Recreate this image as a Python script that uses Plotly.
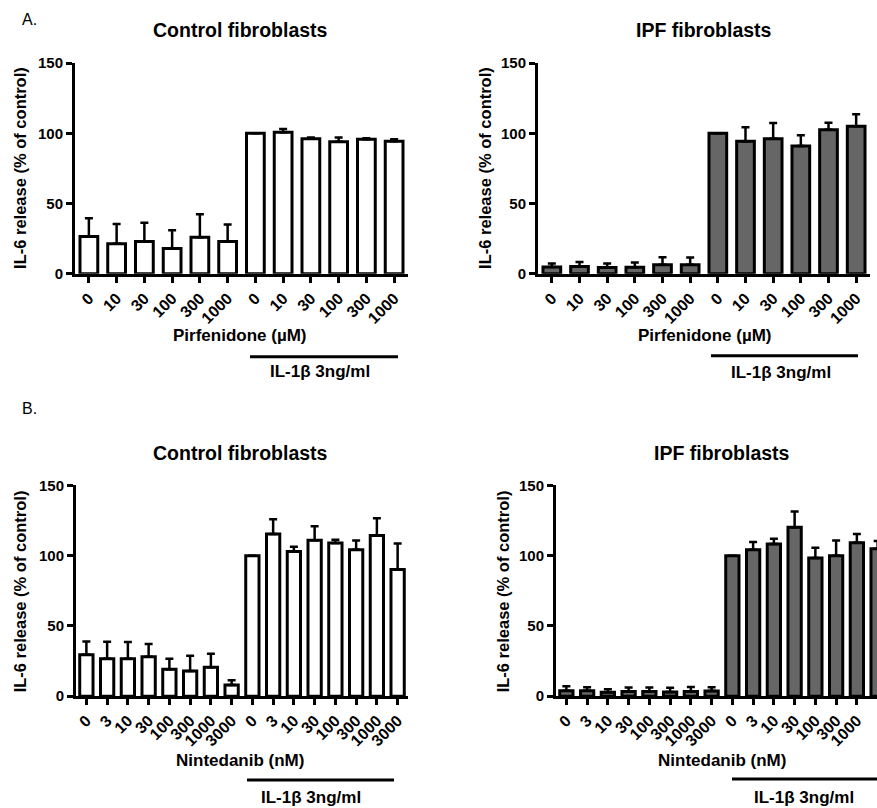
import plotly.graph_objects as go

# The photographed page shows the figure 8px lower and ~2% shorter than drawn;
# target pixel rows are converted back through that mapping in py().
W, H = 877, 816
OFFY, SY = 8, 808 / 824

# ---------------- data ----------------
pirf_labels = ["0", "10", "30", "100", "300", "1000", "0", "10", "30", "100", "300", "1000"]
nint_labels = ["0", "3", "10", "30", "100", "300", "1000", "3000",
               "0", "3", "10", "30", "100", "300", "1000", "3000"]

ctrl_pirf_mean = [26.5, 21.3, 23.0, 18.0, 26.0, 23.0, 100.0, 100.7, 96.2, 94.0, 95.8, 94.3]
ctrl_pirf_sem = [13.1, 14.2, 13.3, 13.0, 16.4, 12.0, 0.0, 2.3, 0.8, 3.0, 0.6, 1.4]

ipf_pirf_mean = [4.8, 5.1, 4.5, 4.7, 6.4, 6.4, 100.0, 94.4, 96.1, 90.9, 102.5, 105.1]
ipf_pirf_sem = [2.6, 3.3, 2.8, 3.3, 5.4, 5.1, 0.0, 10.0, 11.2, 7.8, 5.0, 8.4]

ctrl_nint_mean = [29.5, 26.7, 26.7, 28.1, 19.2, 18.0, 20.5, 7.9,
                  100.0, 115.5, 103.0, 111.0, 109.1, 104.2, 114.3, 90.2]
ctrl_nint_sem = [9.5, 12.0, 11.8, 9.0, 7.5, 10.8, 9.7, 3.4,
                 0.0, 10.5, 3.3, 10.0, 2.2, 6.6, 12.3, 18.5]

ipf_nint_mean = [3.9, 3.8, 2.8, 3.3, 3.3, 3.0, 3.3, 3.6,
                 100.0, 104.2, 108.3, 120.3, 98.3, 100.0, 109.2, 105.0]
ipf_nint_sem = [3.2, 2.6, 2.2, 2.9, 2.9, 3.0, 3.3, 2.8,
                0.0, 5.5, 3.7, 11.2, 7.4, 10.9, 6.2, 5.4]

y_ticks = [0, 50, 100, 150]

FONT = "Liberation Sans, Arial, Helvetica, sans-serif"


def px(x):
    return min(1.0, max(0.0, x / W))


def py(y):
    return min(1.0, max(0.0, 1 - (y / SY - OFFY) / H))


panels = [
    ("", pirf_labels, ctrl_pirf_mean, ctrl_pirf_sem, "white", (75, 408), (62, 273), None),
    ("2", pirf_labels, ipf_pirf_mean, ipf_pirf_sem, "#666666", (538, 870), (62, 273), None),
    ("3", nint_labels, ctrl_nint_mean, ctrl_nint_sem, "white", (76, 408), (485, 696), None),
    ("4", nint_labels, ipf_nint_mean, ipf_nint_sem, "#666666", (556, 877), (485, 696), 14.97),
]

fig = go.Figure()
layout = dict(
    width=W, height=H,
    margin=dict(l=0, r=0, t=0, b=0),
    paper_bgcolor="white", plot_bgcolor="white",
    showlegend=False,
    font=dict(family=FONT, color="black"),
)

for suf, labels, means, sems, fill, xd, yd, xend in panels:
    n = len(labels)
    xs = list(range(n))
    fig.add_trace(go.Bar(
        x=xs, y=means,
        width=0.64,
        marker=dict(color=fill, line=dict(color="black", width=3)),
        error_y=dict(type="data", symmetric=False, array=sems,
                     arrayminus=[0] * n, color="black", thickness=2.5, width=4),
        xaxis="x" + suf, yaxis="y" + suf,
        hoverinfo="skip",
    ))
    layout["xaxis" + suf] = dict(
        domain=[px(xd[0]), px(xd[1])],
        range=[-0.5, xend if xend is not None else n - 0.5],
        anchor="y" + suf,
        showline=True, linecolor="black", linewidth=3,
        ticks="outside", ticklen=6, tickwidth=3, tickcolor="black",
        tickmode="array", tickvals=xs, ticktext=labels, tickangle=-45,
        tickfont=dict(family=FONT, size=16, color="black", weight="bold"),
        showgrid=False, zeroline=False, fixedrange=True,
    )
    layout["yaxis" + suf] = dict(
        domain=[py(yd[1]), py(yd[0])],
        range=[0, 150],
        anchor="x" + suf,
        showline=True, linecolor="black", linewidth=3,
        ticks="outside", ticklen=6, tickwidth=3, tickcolor="black",
        tickmode="array", tickvals=y_ticks,
        tickfont=dict(family=FONT, size=15, color="black", weight="bold"),
        showgrid=False, zeroline=False, fixedrange=True,
    )

fig.update_layout(**layout)


def ann(text, x, y, size, bold=True, angle=0, xanchor="center"):
    fig.add_annotation(
        text=text, x=px(x), y=py(y), xref="paper", yref="paper",
        showarrow=False, textangle=angle, xanchor=xanchor, yanchor="middle",
        font=dict(family=FONT, size=size, color="black",
                  weight="bold" if bold else "normal"),
    )


ann("A.", 20, 18, 16, bold=False, xanchor="left")
ann("B.", 20, 408, 16, bold=False, xanchor="left")

ann("Control fibroblasts", 240, 28.5, 19.5)
ann("IPF fibroblasts", 704, 28.5, 19.5)
ann("Control fibroblasts", 240, 452, 19.5)
ann("IPF fibroblasts", 722, 452, 19.5)

ylab = "IL-6 release (% of control)"
ann(ylab, 20, 167, 16.5, angle=-90)
ann(ylab, 485, 167, 16.5, angle=-90)
ann(ylab, 20, 591, 16.5, angle=-90)
ann(ylab, 503, 591, 16.5, angle=-90)

ann("Pirfenidone (µM)", 240, 335, 17)
ann("Pirfenidone (µM)", 705, 335, 17)
ann("Nintedanib (nM)", 240, 760, 17)
ann("Nintedanib (nM)", 722, 760, 17)

ann("IL-1β 3ng/ml", 320, 371, 17)
ann("IL-1β 3ng/ml", 781, 372, 17)
ann("IL-1β 3ng/ml", 311, 797, 17)
ann("IL-1β 3ng/ml", 804, 797, 17)

for x0, x1, y in [(250, 398, 356), (711, 858, 355), (247, 394, 780), (732, 877, 779)]:
    fig.add_shape(type="line", xref="paper", yref="paper",
                  x0=px(x0), x1=px(x1), y0=py(y), y1=py(y),
                  line=dict(color="black", width=3))

fig.write_html("out.html")
